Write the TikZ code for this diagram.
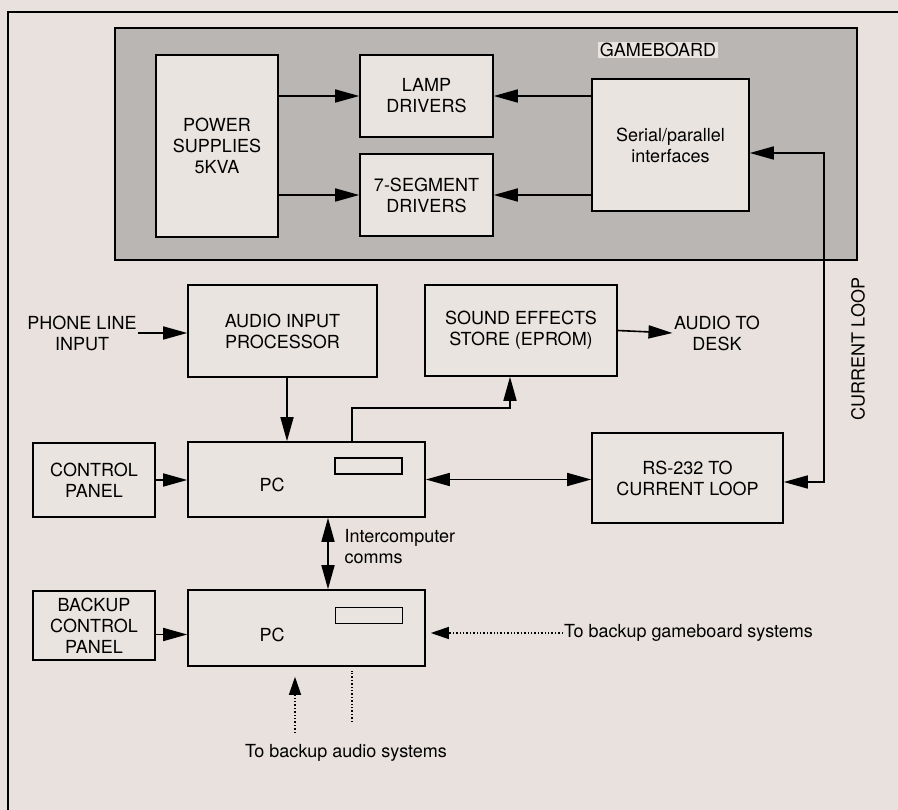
\documentclass[tikz,border=0pt]{standalone}
\usepackage{fontspec}
\setmainfont{TeX Gyre Heros}
\usetikzlibrary{arrows.meta}
\definecolor{page-bg}{HTML}{E8E1DD}
\definecolor{board-grey}{HTML}{B9B6B4}
\definecolor{box-bg}{HTML}{E9E4E0}

\begin{document}
\begin{tikzpicture}[x=1pt, y=-1pt,
        every node/.style={font=\fontsize{18}{21}\selectfont, align=center},
        block/.style={draw, line width=1.6pt, fill=box-bg, inner sep=2pt},
        slot/.style={draw, line width=1.6pt, minimum width=67pt, minimum height=16pt, inner sep=0pt},
        link/.style={line width=1.6pt, -{Triangle[length=24pt,width=13pt]}},
        twoway/.style={line width=1.6pt, {Triangle[length=24pt,width=13pt]}-{Triangle[length=24pt,width=13pt]}},
        backup/.style={line width=1.4pt, dash pattern=on 1.4pt off 2pt}]
      \fill[page-bg] (0,0) rectangle (898,810);
      \useasboundingbox (0,0) rectangle (898,810);
      \draw[line width=1.6pt] (8,810) -- (8,12) -- (898,12);

      \node[draw, line width=1.6pt, fill=board-grey, inner sep=0pt,
            minimum width=742pt, minimum height=232pt] (board) at (486,144) {};
      \node[fill=box-bg, inner sep=1.5pt] (boardlabel) at (658,50) {GAMEBOARD};
      \node[block, minimum width=122pt, minimum height=182pt] (power) at (217,146) {POWER\\SUPPLIES\\5KVA};
      \node[block, minimum width=133pt, minimum height=82pt] (lamp) at (426.5,96) {LAMP\\DRIVERS};
      \node[block, minimum width=133pt, minimum height=82pt] (seg) at (426.5,195) {7-SEGMENT\\DRIVERS};
      \node[block, minimum width=157pt, minimum height=132pt] (serial) at (670.5,145) {Serial/parallel\\interfaces};
      \node[rotate=90] (looplabel) at (858,349) {CURRENT LOOP};

      \node[inner sep=1.5pt] (phone) at (82,333) {PHONE LINE\\INPUT};
      \node[block, minimum width=189pt, minimum height=92pt] (audio) at (282.5,331) {AUDIO INPUT\\PROCESSOR};
      \node[block, minimum width=192pt, minimum height=91pt] (sfx) at (521,330.5) {SOUND EFFECTS\\STORE (EPROM)};
      \node[inner sep=1.5pt] (desk) at (717,333) {AUDIO TO\\DESK};

      \node[block, minimum width=122pt, minimum height=74pt] (ctrl) at (94,480) {CONTROL\\PANEL};
      \node[block, minimum width=237pt, minimum height=75pt] (pc1) at (306.5,479.5) {};
      \node (pclabel1) at (272,485) {PC};
      \node[slot] (slot1) at (368.5,466) {};
      \node[block, minimum width=191pt, minimum height=90pt] (rs) at (687.5,478) {RS-232 TO\\CURRENT LOOP};

      \node[anchor=west, align=left] (comms) at (341,547) {Intercomputer\\comms};

      \node[block, minimum width=122pt, minimum height=69pt] (bctrl) at (94,625.5) {BACKUP\\CONTROL\\PANEL};
      \node[block, minimum width=237pt, minimum height=76pt] (pc2) at (306.5,628) {};
      \node (pclabel2) at (272,635) {PC};
      \node[slot] (slot2) at (369,615.5) {};
      \node[anchor=west, inner sep=1pt] (gbtext) at (563,633) {To backup gameboard systems};
      \node (audiotext) at (346,753) {To backup audio systems};
      \coordinate (audioend) at (295,733);
      \coordinate (audioend2) at (352,722);

      \draw[link] (power.east |- lamp.west) -- (lamp.west);
      \draw[link] (power.east |- seg.west) -- (seg.west);
      \draw[link] (serial.west |- lamp.east) -- (lamp.east);
      \draw[link] (serial.west |- seg.east) -- (seg.east);
      \draw[twoway] ([yshift=-4pt]rs.east) -- ++(40,0) |- ([yshift=-8pt]serial.east);
      \draw[link] (phone.east) -- (phone.east -| audio.west);
      \draw[link] ([xshift=4.5pt]audio.south) -- ([xshift=4.5pt]audio.south |- pc1.north);
      \draw[link] ([xshift=45.5pt]pc1.north) -- ++(0,-33) -| ([xshift=-11pt]sfx.south);
      \draw[link] (sfx.east) -- (desk.west);
      \draw[link] (ctrl.east) -- (ctrl.east -| pc1.west);
      \draw[twoway] (pc1.east) -- (pc1.east -| rs.west);
      \draw[twoway] ([xshift=21.5pt]pc1.south) -- ([xshift=21.5pt]pc2.north);
      \draw[link] ([yshift=-9pt]bctrl.east) -- ([yshift=-9pt]bctrl.east -| pc2.west);
      \draw[backup, -{Triangle[length=18pt,width=12pt]}, shorten >=5pt] (gbtext.west) -- (gbtext.west -| pc2.east);
      \draw[backup, -{Triangle[length=18pt,width=12pt]}, shorten >=10pt] (audioend) -- (audioend |- pc2.south);
      \draw[backup, shorten >=4pt] (audioend2) -- (audioend2 |- pc2.south);
    \end{tikzpicture}
\end{document}
